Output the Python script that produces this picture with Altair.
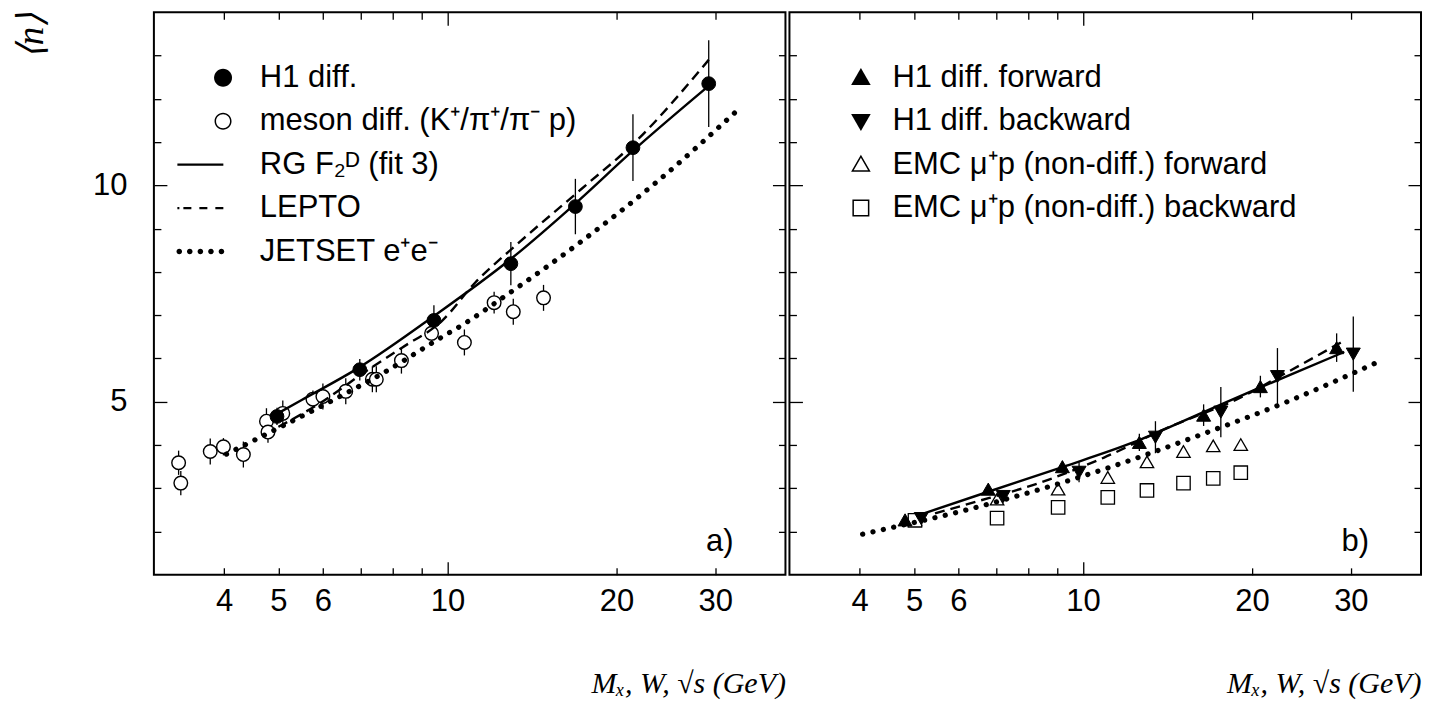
import altair as alt
import pandas as pd

W, H = 632, 563
SANS = "Liberation Sans"
SERIF = "Liberation Serif"
FS = 31

# ---------------- tick / label values ----------------
X_LABELS = [4, 5, 6, 10, 20, 30]
X_TICKS = [4, 5, 6, 7, 8, 9, 10, 20, 30]
Y_LABELS = [5, 10]
Y_TICKS = [2, 3, 4, 5, 6, 7, 8, 9, 10, 11, 12, 13]
X_TITLE = "Mₓ, W, √s (GeV)"
Y_TITLE = "⟨n⟩"
PANEL_TAGS = ["a)", "b)"]

# ---------------- panel a ----------------
A_LABELS = ["H1 diff.", "meson diff. (K⁺/π⁺/π⁻ p)", "RG F₂ᴰ (fit 3)", "LEPTO", "JETSET e⁺e⁻"]

H1_X = [4.97, 6.98, 9.46, 12.97, 16.9, 21.4, 29.2]
H1_Y = [4.66, 5.74, 6.88, 8.19, 9.51, 10.87, 12.35]
H1_ERR = [0.2, 0.25, 0.35, 0.5, 0.64, 0.77, 1.0]

MESON_X = [3.32, 3.35, 3.78, 3.99, 4.33, 4.76, 4.79, 5.09, 5.76, 6.0, 6.59, 7.35,
           7.47, 8.28, 9.37, 10.72, 12.11, 13.1, 14.83]
MESON_Y = [3.59, 3.12, 3.85, 3.96, 3.78, 4.55, 4.30, 4.73, 5.06, 5.12, 5.24, 5.52,
           5.52, 5.95, 6.58, 6.37, 7.29, 7.08, 7.40]
MESON_ERR = [0.28, 0.28, 0.3, 0.2, 0.3, 0.3, 0.25, 0.3, 0.2, 0.3, 0.3, 0.3,
             0.3, 0.3, 0.25, 0.3, 0.25, 0.3, 0.3]

RG_A_X = [4.97, 5.5, 6.98, 9.46, 12.97, 16.9, 21.4, 29.2]
RG_A_Y = [4.72, 5.04, 5.80, 6.98, 8.30, 9.58, 10.80, 12.30]

LEPTO_A_X = [5.0, 5.9, 7.15, 8.3, 9.78, 11.2, 13.2, 17.3, 21.6, 29.2]
LEPTO_A_Y = [4.42, 4.95, 5.70, 6.25, 6.87, 7.75, 8.60, 9.91, 11.0, 12.9]

JETSET_A_X = [4.04, 4.96, 6.28, 7.65, 9.59, 10.8, 12.5, 17.3, 23.7, 33.2]
JETSET_A_Y = [3.79, 4.37, 5.05, 5.65, 6.43, 6.83, 7.39, 8.70, 10.1, 11.79]

# ---------------- panel b ----------------
B_LABELS = ["H1 diff. forward", "H1 diff. backward",
            "EMC μ⁺p (non-diff.) forward", "EMC μ⁺p (non-diff.) backward"]

FWD_X = [4.82, 6.78, 9.19, 12.6, 16.4, 20.7, 28.3]
FWD_Y = [2.27, 2.98, 3.50, 4.06, 4.69, 5.35, 6.25]
FWD_ERR = [0.08, 0.1, 0.12, 0.2, 0.25, 0.25, 0.33]

BWD_X = [5.15, 7.21, 9.84, 13.46, 17.6, 22.2, 30.3]
BWD_Y = [2.30, 2.81, 3.37, 4.18, 4.76, 5.58, 6.10]
BWD_ERR = [0.1, 0.12, 0.23, 0.37, 0.58, 0.66, 0.87]

EMCF_X = [5.02, 7.03, 9.03, 11.07, 13.0, 15.1, 17.06, 19.1]
EMCF_Y = [2.27, 2.75, 2.98, 3.25, 3.61, 3.85, 3.98, 4.01]

EMCB_X = [5.02, 7.03, 9.03, 11.07, 13.0, 15.1, 17.06, 19.1]
EMCB_Y = [2.26, 2.31, 2.56, 2.79, 2.95, 3.12, 3.23, 3.36]

RG_B_X = [5.15, 6.78, 9.19, 12.35, 16.4, 20.7, 29.2]
RG_B_Y = [2.40, 2.92, 3.49, 4.07, 4.76, 5.33, 6.15]

LEPTO_B_X = [5.45, 6.25, 8.43, 10.9, 13.97, 19.1, 23.1, 28.8]
LEPTO_B_Y = [2.42, 2.64, 3.14, 3.71, 4.37, 5.10, 5.68, 6.37]

JETSET_B_X = [4.05, 4.63, 5.99, 7.77, 10.9, 16.0, 23.1, 33.4]
JETSET_B_Y = [1.94, 2.11, 2.45, 2.85, 3.44, 4.21, 5.00, 5.91]

# ---------------- legend symbol paths (unit = 10 px) ----------------
A_PATHS = [
    "M3.17,0A0.9,0.9 0 1,1 1.37,0A0.9,0.9 0 1,1 3.17,0Z",
    "M3.12,0A0.85,0.85 0 1,1 1.42,0A0.85,0.85 0 1,1 3.12,0Z"
    "M2.97,0A0.7,0.7 0 1,0 1.57,0A0.7,0.7 0 1,0 2.97,0Z",
    "M-2.3,-0.12H2.3V0.12H-2.3Z",
    "M-2.3,-0.12H-2.1V0.12H-2.3Z M-1.7,-0.12H-0.9V0.12H-1.7Z "
    "M-0.1,-0.12H0.7V0.12H-0.1Z M1.5,-0.12H2.3V0.12H1.5Z",
    "M-1.83,0A0.28,0.28 0 1,1 -2.39,0A0.28,0.28 0 1,1 -1.83,0Z "
    "M-0.78,0A0.28,0.28 0 1,1 -1.34,0A0.28,0.28 0 1,1 -0.78,0Z "
    "M0.28,0A0.28,0.28 0 1,1 -0.28,0A0.28,0.28 0 1,1 0.28,0Z "
    "M1.34,0A0.28,0.28 0 1,1 0.78,0A0.28,0.28 0 1,1 1.34,0Z "
    "M2.39,0A0.28,0.28 0 1,1 1.83,0A0.28,0.28 0 1,1 2.39,0Z",
]
B_PATHS = [
    "M0,-0.98L0.98,0.72L-0.98,0.72Z",
    "M-0.98,-0.72L0.98,-0.72L0,0.98Z",
    "M0,-0.98L0.98,0.72L-0.98,0.72Z M0,-0.68L-0.72,0.57L0.72,0.57Z",
    "M-0.85,-0.85H0.85V0.85H-0.85Z M-0.7,-0.7V0.7H0.7V-0.7Z",
]


def xsc():
    return alt.Scale(type="log", domain=[3, 40], nice=False)


def ysc():
    return alt.Scale(domain=[1, 14], nice=False, zero=False)


def df(xs, ys, errs=None):
    d = pd.DataFrame({"x": xs, "y": ys})
    if errs is not None:
        d["lo"] = [a - b for a, b in zip(ys, errs)]
        d["hi"] = [a + b for a, b in zip(ys, errs)]
    return d


def main_x_axis():
    return alt.Axis(values=X_LABELS, ticks=False, tickSize=0, domain=False, grid=False,
                    labelFont=SANS, labelFontSize=FS, labelColor="black", labelPadding=12,
                    labelFlush=False, labelOverlap=False, labelExpr="'' + datum.value",
                    title=X_TITLE, titleFont=SERIF, titleFontStyle="italic",
                    titleFontWeight="normal", titleFontSize=30, titleColor="black",
                    titleX=W, titleY=118, titleAlign="right", titleBaseline="alphabetic")


def main_y_axis():
    return alt.Axis(values=Y_LABELS, ticks=False, tickSize=0, domain=False, grid=False,
                    labelFont=SANS, labelFontSize=FS, labelColor="black", labelPadding=27,
                    labelFlush=False, labelOverlap=False,
                    title=Y_TITLE, titleFont=SERIF, titleFontStyle="italic",
                    titleFontWeight="normal", titleFontSize=37, titleColor="black",
                    titleAngle=270, titleX=-122, titleY=0, titleAlign="right",
                    titleBaseline="middle")


def tick_axis(orient, offset, values, cond):
    return alt.Axis(orient=orient, offset=offset, values=values, labels=False,
                    domain=False, grid=False, ticks=True, tickColor="black", tickWidth=1.3,
                    tickSize={"condition": {"test": cond, "value": 13}, "value": 7},
                    title=None)


XCOND = "datum.value === 10"
YCOND = "datum.value === 5 || datum.value === 10"


def errbars(d, xaxis, yaxis):
    return alt.Chart(d).mark_rule(color="black", strokeWidth=1.3).encode(
        x=alt.X("x:Q", scale=xsc(), axis=xaxis),
        y=alt.Y("lo:Q", scale=ysc(), axis=yaxis),
        y2="hi:Q")


def points(d, shape, fill, size, sw=1.4):
    return alt.Chart(d).mark_point(shape=shape, filled=False, fill=fill, stroke="black",
                                   strokeWidth=sw, size=size, opacity=1).encode(
        x=alt.X("x:Q", scale=xsc(), axis=None),
        y=alt.Y("y:Q", scale=ysc(), axis=None))


def curve(d, style):
    if style == "solid":
        m = alt.Chart(d).mark_line(color="black", strokeWidth=2.4, interpolate="monotone")
    elif style == "dashed":
        m = alt.Chart(d).mark_line(color="black", strokeWidth=2.4, interpolate="monotone",
                                   strokeDash=[10, 6])
    else:
        m = alt.Chart(d).mark_line(color="black", strokeWidth=5.2, interpolate="monotone",
                                   strokeDash=[0.1, 10.5], strokeCap="round")
    return m.encode(x=alt.X("x:Q", scale=xsc(), axis=None),
                    y=alt.Y("y:Q", scale=ysc(), axis=None))


def tick_layers(d):
    l2 = alt.Chart(d).mark_point(size=0, opacity=0).encode(
        x=alt.X("x:Q", scale=xsc(), axis=tick_axis("top", -H, X_TICKS, XCOND)),
        y=alt.Y("y:Q", scale=ysc(), axis=tick_axis("right", -W, Y_TICKS, YCOND)))
    l3 = alt.Chart(d).mark_point(size=0, opacity=0).encode(
        x=alt.X("x:Q", scale=xsc(), axis=tick_axis("bottom", -H, X_TICKS, XCOND)),
        y=alt.Y("y:Q", scale=ysc(), axis=tick_axis("left", -W, Y_TICKS, YCOND)))
    return l2, l3


def legend_layer(labels, paths, lx, ly, loff):
    return alt.Chart(pd.DataFrame({"series": labels})).mark_point(
        filled=True, color="black", size=0, strokeWidth=0, opacity=1).encode(
        shape=alt.Shape("series:N", scale=alt.Scale(domain=labels, range=paths),
                        legend=alt.Legend(title=None, orient="none", legendX=lx, legendY=ly,
                                          symbolSize=400, symbolFillColor="black",
                                          symbolStrokeWidth=0, labelFont=SANS,
                                          labelFontSize=FS, labelColor="black",
                                          labelOffset=loff, rowPadding=11.5, padding=0,
                                          labelLimit=1000)))


def tag_layer(t):
    return alt.Chart(pd.DataFrame({"t": [t]})).mark_text(
        align="right", baseline="middle", font=SANS, fontSize=FS, color="black").encode(
        x=alt.value(W - 52), y=alt.value(H - 33), text="t:N")


# ---------------- panel a ----------------
err_a = pd.concat([df(H1_X, H1_Y, H1_ERR), df(MESON_X, MESON_Y, MESON_ERR)])
a_l2, a_l3 = tick_layers(df(H1_X, H1_Y))
panel_a = alt.layer(
    errbars(err_a, main_x_axis(), main_y_axis()),
    points(df(MESON_X, MESON_Y), "circle", "white", 185),
    curve(df(RG_A_X, RG_A_Y), "solid"),
    curve(df(LEPTO_A_X, LEPTO_A_Y), "dashed"),
    curve(df(JETSET_A_X, JETSET_A_Y), "dotted"),
    points(df(H1_X, H1_Y), "circle", "black", 190, 1),
    a_l2, a_l3,
    legend_layer(A_LABELS, A_PATHS, 31, 50, 44),
    tag_layer(PANEL_TAGS[0]),
).resolve_axis(x="independent", y="independent").properties(width=W, height=H)

# ---------------- panel b ----------------
err_b = pd.concat([df(FWD_X, FWD_Y, FWD_ERR), df(BWD_X, BWD_Y, BWD_ERR)])
b_l2, b_l3 = tick_layers(df(FWD_X, FWD_Y))
panel_b = alt.layer(
    errbars(err_b, main_x_axis(), None),
    points(df(EMCF_X, EMCF_Y), "triangle-up", "white", 180, 1.3),
    points(df(EMCB_X, EMCB_Y), "square", "white", 180, 1.3),
    curve(df(RG_B_X, RG_B_Y), "solid"),
    curve(df(LEPTO_B_X, LEPTO_B_Y), "dashed"),
    curve(df(JETSET_B_X, JETSET_B_Y), "dotted"),
    points(df(FWD_X, FWD_Y), "triangle-up", "black", 196, 1),
    points(df(BWD_X, BWD_Y), "triangle-down", "black", 196, 1),
    b_l2, b_l3,
    legend_layer(B_LABELS, B_PATHS, 56, 50, 16),
    tag_layer(PANEL_TAGS[1]),
).resolve_axis(x="independent", y="independent").properties(width=W, height=H)

chart = alt.hconcat(panel_a, panel_b, spacing=0).resolve_scale(
    shape="independent").resolve_legend(shape="independent").configure_view(
    stroke="black", strokeWidth=2).properties(
    padding={"left": 4, "top": 2, "right": 5, "bottom": 0})

chart.save("out.html", embed_options={"renderer": "svg", "actions": False})
